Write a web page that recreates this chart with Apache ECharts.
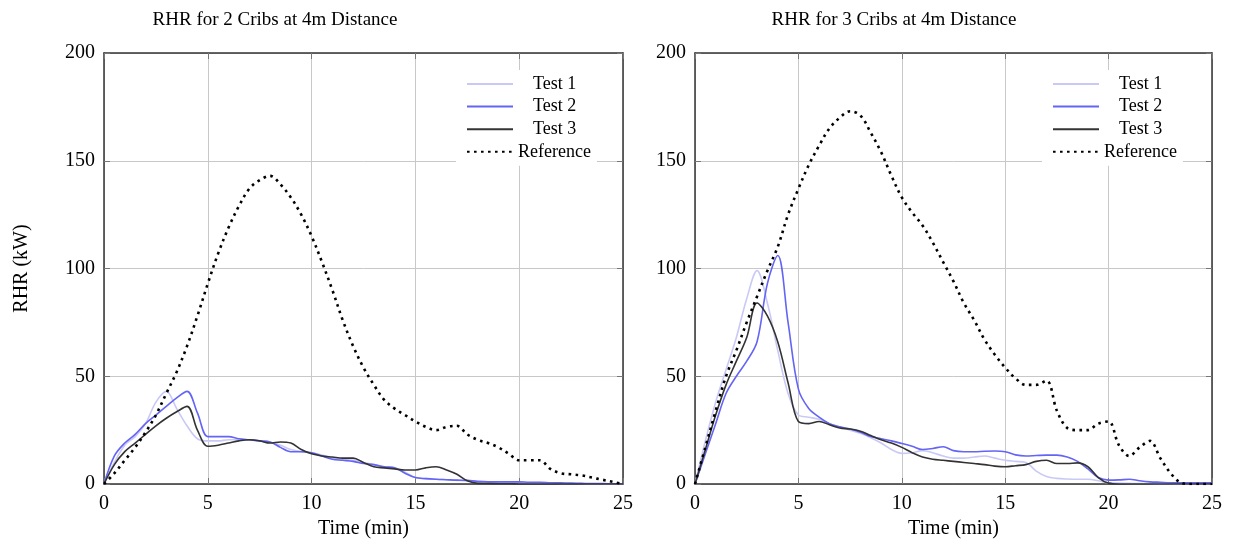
<!DOCTYPE html>
<html>
<head>
<meta charset="utf-8">
<title>RHR cribs at 4m</title>
<script src="https://cdn.jsdelivr.net/npm/echarts@6/dist/echarts.min.js"></script>
<style>
  html, body { margin: 0; padding: 0; background: #fff; }
  #main { width: 1236px; height: 555px; }
</style>
</head>
<body>
<div id="main"></div>
<script>
// time samples (min)
var time_min = [0, 0.5, 1, 1.5, 2, 2.5, 3, 3.5, 4, 4.5, 5, 5.5, 6, 6.5, 7, 7.5, 8, 8.5, 9, 9.5,
  10, 10.5, 11, 11.5, 12, 12.5, 13, 13.5, 14, 14.5, 15, 15.5, 16, 16.5, 17, 17.5, 18, 18.5, 19, 19.5,
  20, 20.5, 21, 21.5, 22, 22.5, 23, 23.5, 24, 24.5, 25];

// 2 cribs (kW)
var two_test1 = [0, 10, 18, 22, 28, 38, 43, 35, 27, 21, 20, 20, 20.5, 20.5, 20.5, 20, 19.5, 18, 16, 15,
  14.5, 13.5, 12, 11.5, 11, 10, 9, 8, 7.5, 5.5, 3, 2.5, 2.2, 2, 1.7, 1.5, 1, 1, 0.8, 0.7,
  0.6, 0.5, 0.5, 0.4, 0.3, 0.2, 0.2, 0.1, 0.1, 0, 0];
var two_test2 = [0, 13, 19, 23, 28, 32, 36, 40, 43, 33, 22, 22, 22, 21, 20.5, 20, 19.5, 17, 15, 15,
  14.5, 13, 11.5, 11, 10.5, 9.5, 9, 8, 7.5, 5, 3, 2.5, 2.2, 2, 1.8, 1.7, 1.2, 1, 1, 1,
  1, 0.8, 0.8, 0.6, 0.5, 0.4, 0.3, 0.2, 0.2, 0.1, 0];
var two_test3 = [0, 9, 15, 19, 23, 27, 30.5, 33.5, 36, 25, 17.5, 18, 19, 20, 20.5, 20, 19, 19.5, 19, 16,
  14, 13, 12.5, 12, 12, 10, 8, 7.5, 7, 6.5, 6.5, 7.5, 8, 6.5, 4.5, 1.5, 0.3, 0.2, 0.1, 0.1,
  0, 0, 0, 0, 0, 0, 0, 0, 0, 0, 0];
var two_ref = [0, 5, 11, 17, 24, 32, 42, 52, 64, 78, 93, 107, 119, 129, 137, 141, 143, 139, 133, 125,
  115, 103, 90, 76, 64, 54, 46, 39, 35, 32, 29, 26.5, 25, 26.5, 27, 23, 20.5, 19, 17, 14,
  11, 11, 11, 7, 5, 4.5, 4, 3, 2, 1, 0];

// 3 cribs (kW)
var three_test1 = [0, 20, 38, 53, 68, 86, 99, 84, 62, 42, 32, 31, 30, 28, 26.5, 25, 23.5, 21.5, 19, 16,
  14.2, 14.5, 15.5, 14.5, 13, 12, 12, 12.5, 13, 12, 11, 10.5, 10, 6, 3.5, 2.6, 2.3, 2.2, 2.2, 1.5,
  0.5, 0.4, 0.3, 0.2, 0.2, 0.1, 0.1, 0, 0, 0, 0];
var three_test2 = [0, 14, 28, 42, 50, 57, 66, 93, 106, 75, 44, 35, 31, 28, 26.5, 25.5, 24, 22, 21, 20,
  18.8, 17.5, 16, 16.5, 17.3, 15.5, 15, 15, 15.2, 15.3, 15, 13.5, 13, 13.2, 13.4, 13.4, 12.5, 10.5, 7, 3,
  1.8, 1.9, 2.2, 1.5, 1, 0.8, 0.6, 0.5, 0.5, 0.5, 0.5];
var three_test3 = [0, 16, 32, 46, 57, 68, 84, 78, 66, 47, 29, 28, 29, 27.5, 26, 25.5, 24.5, 22.5, 20.5, 19,
  17, 14.5, 12.5, 11.5, 11, 10.5, 10, 9.5, 9, 8.3, 8, 8.5, 9, 10.5, 11, 9.5, 9.5, 9.8, 8, 3,
  0.4, 0, 0, 0, 0, 0, 0, 0, 0, 0, 0];
var three_ref = [0, 17, 34, 50, 62, 75, 87, 99, 110, 125, 137, 148, 157, 165, 170, 173, 171, 163, 154, 143,
  133, 126, 120, 112, 103, 94, 84, 76, 67, 60, 54, 49, 46, 46, 48, 34, 26, 25, 25, 28,
  29, 18, 13, 17, 20, 12, 5, 0.6, 0, 0, 0];

var x_ticks = [0, 5, 10, 15, 20, 25];
var y_ticks = [0, 50, 100, 150, 200];
var legend_names = ['Test 1', 'Test 2', 'Test 3', 'Reference'];

function pairs(vals) {
  var out = [];
  for (var i = 0; i < time_min.length; i++) {
    out.push([time_min[i], vals[i]]);
  }
  return out;
}

var font = '"Liberation Serif", "DejaVu Serif", serif';
var c1 = '#c9c9f7', c2 = '#6464f5', c3 = '#333333', cref = '#000000';

function lineSeries(name, vals, color, idx, dotted) {
  return {
    name: name,
    type: 'line',
    xAxisIndex: idx,
    yAxisIndex: idx,
    data: pairs(vals),
    smooth: 0.35,
    symbol: 'none',
    animation: false,
    lineStyle: dotted
      ? { color: color, width: 2.6, type: [2.6, 4.4], cap: 'butt' }
      : { color: color, width: 1.6 },
    itemStyle: { color: color }
  };
}

function xAx(idx) {
  return {
    type: 'value', gridIndex: idx,
    min: x_ticks[0], max: x_ticks[x_ticks.length - 1], interval: x_ticks[1] - x_ticks[0],
    name: 'Time (min)', nameLocation: 'middle', nameGap: 32,
    nameTextStyle: { fontFamily: font, fontSize: 20, color: '#000' },
    axisLine: { show: true, onZero: false, lineStyle: { color: '#333', width: 1.5 } },
    axisTick: { show: true, inside: true, length: 6, lineStyle: { color: '#777' } },
    axisLabel: { fontFamily: font, fontSize: 20, color: '#000', margin: 10 },
    splitLine: { show: true, lineStyle: { color: '#c8c8c8', width: 1 } }
  };
}
function yAx(idx, withName) {
  return {
    type: 'value', gridIndex: idx,
    min: y_ticks[0], max: y_ticks[y_ticks.length - 1], interval: y_ticks[1] - y_ticks[0],
    name: withName ? 'RHR (kW)' : '', nameLocation: 'middle', nameGap: 72, nameRotate: 90,
    nameTextStyle: { fontFamily: font, fontSize: 20, color: '#000' },
    axisLine: { show: true, onZero: false, lineStyle: { color: '#333', width: 1.5 } },
    axisTick: { show: true, inside: true, length: 6, lineStyle: { color: '#777' } },
    axisLabel: { fontFamily: font, fontSize: 20, color: '#000', margin: 9 },
    splitLine: { show: true, lineStyle: { color: '#c8c8c8', width: 1 } }
  };
}
// mirrored tick axes on top / right (box style)
function xMirror(idx) {
  return {
    type: 'value', gridIndex: idx, min: 0, max: 25, interval: 5, position: 'top',
    axisLine: { show: true, onZero: false, lineStyle: { color: '#333', width: 1.5 } },
    axisTick: { show: true, inside: true, length: 6, lineStyle: { color: '#777' } },
    axisLabel: { show: false }, splitLine: { show: false }
  };
}
function yMirror(idx) {
  return {
    type: 'value', gridIndex: idx, min: 0, max: 200, interval: 50, position: 'right',
    axisLine: { show: true, onZero: false, lineStyle: { color: '#333', width: 1.5 } },
    axisTick: { show: true, inside: true, length: 6, lineStyle: { color: '#777' } },
    axisLabel: { show: false }, splitLine: { show: false }
  };
}

function legendAt(left, top) {
  var items = legend_names.map(function (n) {
    return {
      name: n,
      textStyle: { padding: n === 'Reference' ? [0, 0, 0, 0] : [0, 0, 0, 15] }
    };
  });
  return {
    orient: 'vertical', left: left, top: top,
    data: items,
    itemWidth: 46, itemHeight: 14, itemGap: 4.6,
    itemStyle: { opacity: 0 },
    backgroundColor: '#fff', padding: [5, 6, 5, 10],
    textStyle: { fontFamily: font, fontSize: 18, color: '#000' }
  };
}

var myChart = echarts.init(document.getElementById('main'), null, { renderer: 'canvas' });
var option = {
  backgroundColor: '#fff',
  animation: false,
  title: [
    { text: 'RHR for 2 Cribs at 4m Distance', left: 270, top: 6, textAlign: 'center',
      textStyle: { fontFamily: font, fontSize: 19, fontWeight: 'normal', color: '#000' } },
    { text: 'RHR for 3 Cribs at 4m Distance', left: 889, top: 6, textAlign: 'center',
      textStyle: { fontFamily: font, fontSize: 19, fontWeight: 'normal', color: '#000' } }
  ],
  legend: [legendAt(456, 70), legendAt(1042, 70)],
  grid: [
    { left: 104, top: 53, width: 519, height: 431, show: false },
    { left: 695, top: 53, width: 517, height: 431, show: false }
  ],
  xAxis: [xAx(0), xAx(1), xMirror(0), xMirror(1)],
  yAxis: [yAx(0, true), yAx(1, false), yMirror(0), yMirror(1)],
  series: [
    lineSeries('Test 1', two_test1, c1, 0, false),
    lineSeries('Test 2', two_test2, c2, 0, false),
    lineSeries('Test 3', two_test3, c3, 0, false),
    lineSeries('Reference', two_ref, cref, 0, true),
    lineSeries('Test 1', three_test1, c1, 1, false),
    lineSeries('Test 2', three_test2, c2, 1, false),
    lineSeries('Test 3', three_test3, c3, 1, false),
    lineSeries('Reference', three_ref, cref, 1, true)
  ]
};
myChart.setOption(option);
</script>
</body>
</html>
